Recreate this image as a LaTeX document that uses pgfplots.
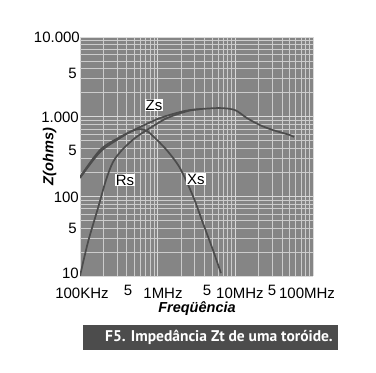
\documentclass[border=0pt]{standalone}
\usepackage{pgfplots}
\pgfplotsset{compat=1.18}
\usepackage{fontspec}
\setmainfont{Liberation Sans}
\newfontfamily\capfont{PT Sans}
\begin{document}
\begin{tikzpicture}[tl/.style={font=\fontsize{15}{17}\selectfont, inner sep=0pt}]
\path[use as bounding box] (-80pt,-97pt) rectangle (296pt,276pt);
\begin{axis}[
  at={(0pt,0pt)}, anchor=south west,
  width=233pt, height=239pt, scale only axis,
  xmode=log, ymode=log,
  xmin=1e5, xmax=1e8, ymin=10, ymax=10000,
  axis background/.style={fill=black!48},
  axis line style={draw=none},
  major tick length=0pt, minor tick length=0pt,
  grid=both,
  major grid style={white!85!black, line width=0.8pt},
  minor grid style={white!80!black, line width=0.7pt},
  xtick={1e5,1e6,1e7,1e8},
  xticklabels={},
  minor xtick={2e5,3e5,4e5,5e5,6e5,7e5,8e5,9e5,2e6,3e6,4e6,5e6,6e6,7e6,8e6,9e6,2e7,3e7,4e7,5e7,6e7,7e7,8e7,9e7},
  ytick={10,100,1000,10000},
  yticklabels={},
  minor ytick={20,30,40,50,60,70,80,90,200,300,400,500,600,700,800,900,2000,3000,4000,5000,6000,7000,8000,9000},
  ylabel={Z(ohms)},
  label style={font=\fontsize{14.5}{16}\selectfont\bfseries\itshape},
  ylabel style={at={(axis description cs:-0.13,0.5)}, anchor=center},
]
% Zs
\addplot[black!70, line width=1.7pt, smooth] coordinates {
(1.000e5,174.6) (1.809e5,381) (3.272e5,555) (5.92e5,740) (1.071e6,960)
(1.936e6,1142) (2.604e6,1210) (3.503e6,1245) (6.337e6,1282) (9.88e6,1210)
(1.41e7,960) (2.07e7,784) (3.05e7,679) (5.04e7,588) (5.68e7,555)};
% Rs
\addplot[black!70, line width=1.7pt, smooth] coordinates {
(1e5,10) (1.268e5,26.7) (1.705e5,71.3) (2.161e5,160) (2.659e5,269)
(3.471e5,381) (5.104e5,539) (7.96e5,719) (1.242e6,933) (1.825e6,1080) (2.604e6,1195) (3.503e6,1240)};
% Xs
\addplot[black!70, line width=1.7pt, smooth] coordinates {
(1e5,169.7) (1.809e5,359.6) (3.272e5,539) (4.669e5,660) (5.92e5,699)
(7.283e5,660) (8.70e5,571) (1.306e6,381) (1.936e6,226.5) (2.847e6,100.9)
(3.828e6,46.2) (5.149e6,21.2) (6.526e6,10.9)};
\node[fill=white, inner sep=1pt, font=\fontsize{15}{17}\selectfont] at (axis cs:8.96e5,1400) {Zs};
\node[fill=white, inner sep=1pt, font=\fontsize{15}{17}\selectfont] at (axis cs:3.79e5,160) {Rs};
\node[fill=white, inner sep=1pt, font=\fontsize{15}{17}\selectfont] at (axis cs:3.11e6,165) {Xs};
\end{axis}
% x tick labels
\node[tl] at (2pt,-17pt) {100KHz};
\node[tl] at (48pt,-14pt) {5};
\node[tl] at (83pt,-17pt) {1MHz};
\node[tl] at (127pt,-14pt) {5};
\node[tl] at (160pt,-17pt) {10MHz};
\node[tl] at (192pt,-14pt) {5};
\node[tl] at (227pt,-17pt) {100MHz};
% x label
\node[font=\fontsize{14.5}{16}\selectfont\bfseries\itshape, inner sep=0pt] at (117pt,-33pt) {Freqüência};
% y tick labels
\node[tl, anchor=east] at (-1pt,3pt) {10};
\node[tl, anchor=east] at (-3pt,48pt) {5};
\node[tl, anchor=east] at (-1pt,79pt) {100};
\node[tl, anchor=east] at (-3pt,126pt) {5};
\node[tl, anchor=east] at (-1pt,159pt) {1.000};
\node[tl, anchor=east] at (-3pt,203pt) {5};
\node[tl, anchor=east] at (0pt,239pt) {10.000};
% caption
\fill[black!70] (3pt,-49pt) rectangle (258pt,-74pt);
\node[text=white, font=\capfont\bfseries\fontsize{15.5}{17}\selectfont] at (139pt,-61.5pt) {F5. Impedância Zt de uma toróide.};
\end{tikzpicture}
\end{document}
